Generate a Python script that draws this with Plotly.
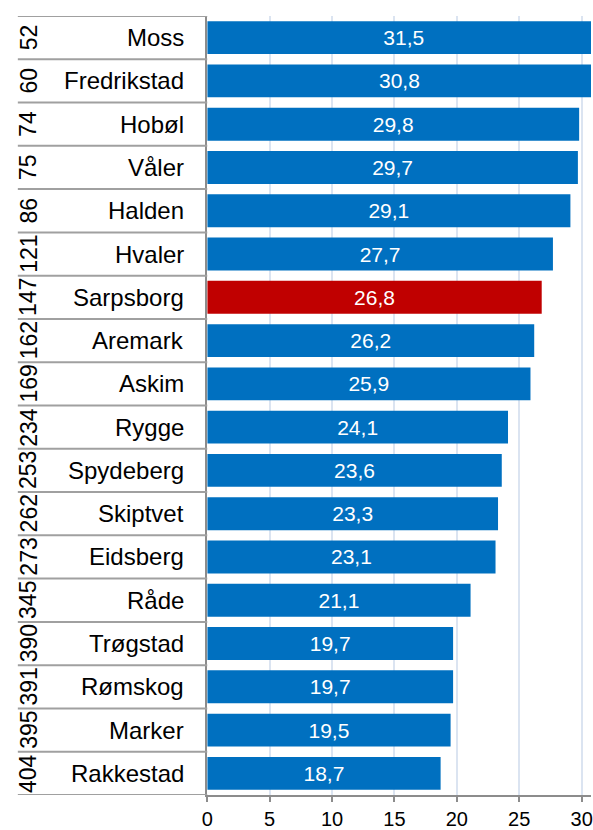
import plotly.graph_objects as go

ranks = [52, 60, 74, 75, 86, 121, 147, 162, 169, 234, 253, 262, 273, 345, 390, 391, 395, 404]
names = ["Moss", "Fredrikstad", "Hobøl", "Våler", "Halden", "Hvaler", "Sarpsborg", "Aremark",
         "Askim", "Rygge", "Spydeberg", "Skiptvet", "Eidsberg", "Råde", "Trøgstad", "Rømskog",
         "Marker", "Rakkestad"]
values = [31.5, 30.8, 29.8, 29.7, 29.1, 27.7, 26.8, 26.2, 25.9, 24.1, 23.6, 23.3, 23.1, 21.1,
          19.7, 19.7, 19.5, 18.7]
highlight = "Sarpsborg"
x_ticks = [0, 5, 10, 15, 20, 25, 30]

W, H = 593, 830
FONT = "Liberation Sans, Arial, sans-serif"
pos = list(range(len(names)))
colors = ["#c00000" if n == highlight else "#0070c0" for n in names]
labels = [f"{v:.1f}".replace(".", ",") for v in values]

fig = go.Figure(go.Bar(
    x=values, y=pos, orientation="h",
    marker=dict(color=colors, line=dict(width=0)),
    text=labels, textposition="inside", insidetextanchor="middle",
    textfont=dict(color="white", size=21, family=FONT),
    width=0.76, cliponaxis=True, hoverinfo="skip",
))

x0 = 204 / W
shapes = []
for i in range(len(names) + 1):
    shapes.append(dict(type="line", xref="paper", yref="y", x0=12 / W, x1=x0,
                       y0=i - 0.5, y1=i - 0.5, line=dict(color="#a0a0a0", width=2)))
annotations = []
for i, (r, n) in enumerate(zip(ranks, names)):
    annotations.append(dict(xref="paper", yref="y", x=23 / W, y=i, text=str(r),
                            showarrow=False, textangle=-90, xanchor="center", yanchor="middle",
                            font=dict(size=23, color="black", family=FONT)))
    annotations.append(dict(xref="paper", yref="y", x=182 / W, y=i, text=n,
                            showarrow=False, xanchor="right", yanchor="middle",
                            font=dict(size=24, color="black", family=FONT)))

fig.update_layout(
    width=W, height=H,
    margin=dict(l=0, r=0, t=16, b=34),
    paper_bgcolor="white", plot_bgcolor="white",
    showlegend=False,
    shapes=shapes, annotations=annotations,
    xaxis=dict(domain=[x0, 1], range=[0, 30.75], tickvals=x_ticks,
               ticktext=[str(t) for t in x_ticks], ticklabeloverflow="allow",
               showgrid=True, gridcolor="#dbe4f1", gridwidth=2,
               showline=True, linecolor="#8c8c8c", linewidth=2,
               ticks="outside", ticklen=5, tickcolor="#8c8c8c", tickwidth=2,
               tickfont=dict(size=20, color="black", family=FONT), zeroline=False),
    yaxis=dict(range=[len(names) - 0.5, -0.5], showticklabels=False, showgrid=False,
               showline=True, linecolor="#8c8c8c", linewidth=2, zeroline=False, ticks=""),
)

fig.write_html(
    "out.html",
    config={"displayModeBar": False},
    post_script="document.body.style.margin='0';document.body.style.overflow='hidden';",
)
